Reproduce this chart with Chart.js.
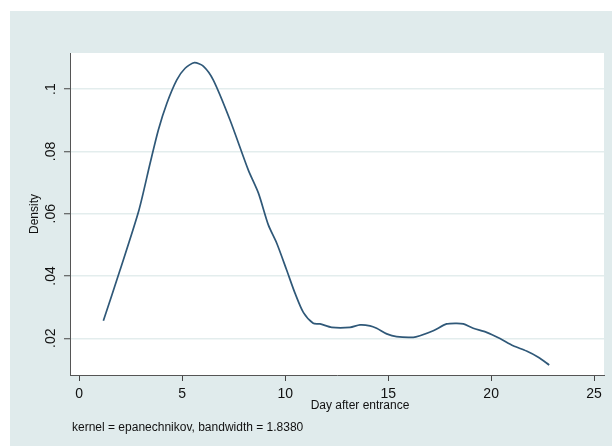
<!DOCTYPE html>
<html>
<head>
<meta charset="utf-8">
<script src="https://cdn.jsdelivr.net/npm/chart.js@4.4.1/dist/chart.umd.min.js"></script>
<style>
html,body{margin:0;padding:0;background:#ffffff;}
#wrap{position:relative;width:612px;height:446px;}
</style>
</head>
<body>
<div id="wrap"><canvas id="c" width="612" height="446"></canvas></div>
<script>
// Day after entrance (x) and estimated kernel density (y)
const dayValues = [1.17,1.98,2.90,3.44,3.84,4.25,4.73,5.14,5.59,6.02,6.51,7.32,8.21,8.70,9.18,9.59,10.07,10.48,10.88,11.36,11.69,12.26,13.15,13.63,14.12,14.44,14.93,15.41,16.22,16.54,17.19,17.84,18.33,18.65,19.13,19.78,20.43,21.07,21.72,22.29,22.82];
const densityValues = [0.0256,0.0419,0.0612,0.0762,0.0869,0.0954,0.1029,0.1067,0.1085,0.1074,0.1029,0.0901,0.0740,0.0666,0.0564,0.0505,0.0419,0.0344,0.0283,0.0248,0.0246,0.0235,0.0235,0.0243,0.0240,0.0232,0.0214,0.0205,0.0203,0.0208,0.0224,0.0246,0.0248,0.0246,0.0232,0.0219,0.0199,0.0176,0.0159,0.0139,0.0114];
const xTicks = [0,5,10,15,20,25];
const yTicks = [0.02,0.04,0.06,0.08,0.1];
const yTickLabels = ['.02','.04','.06','.08','.1'];
const xTitle = 'Day after entrance';
const yTitle = 'Density';
const noteText = 'kernel = epanechnikov, bandwidth = 1.8380';

const points = dayValues.map((d,i)=>({x:d,y:densityValues[i]}));
const FONT = 'Liberation Sans, Arial, sans-serif';

const bgPlugin = {
  id:'bg',
  beforeDraw(chart){
    const ctx = chart.ctx, a = chart.chartArea;
    ctx.save();
    ctx.fillStyle = '#e0ebec';
    ctx.fillRect(10,11,602,435);
    ctx.fillStyle = '#ffffff';
    ctx.fillRect(a.left,a.top,a.right-a.left,a.bottom-a.top);
    ctx.restore();
  },
  afterDraw(chart){
    const ctx = chart.ctx;
    ctx.save();
    ctx.fillStyle = '#111';
    ctx.font = '12px ' + FONT;
    ctx.textBaseline = 'middle';
    ctx.textAlign = 'center';
    ctx.fillText(xTitle, 360, 406);
    ctx.textAlign = 'left';
    ctx.fillText(noteText, 72, 428);
    ctx.restore();
  }
};

new Chart(document.getElementById('c'), {
  type:'line',
  data:{datasets:[{
    data:points,
    borderColor:'#2f5878',
    borderWidth:1.7,
    pointRadius:0,
    tension:0.25,
    fill:false
  }]},
  options:{
    responsive:false,
    animation:false,
    layout:{padding:{left:0,top:53,right:8,bottom:0}},
    plugins:{legend:{display:false},tooltip:{enabled:false}},
    scales:{
      x:{
        type:'linear',
        min:-0.45, max:25.48,
        afterBuildTicks(s){ s.ticks = xTicks.map(v=>({value:v})); },
        afterFit(s){ s.height = 71; },
        grid:{drawOnChartArea:false, drawTicks:true, tickLength:6, tickColor:'#444', tickWidth:1},
        border:{display:true,color:'#555',width:1},
        ticks:{color:'#111', font:{family:FONT,size:14}, padding:5, maxRotation:0,
          callback:(v)=>String(v)}
      },
      y:{
        type:'linear',
        min:0.0082, max:0.1116,
        afterBuildTicks(s){ s.ticks = yTicks.map(v=>({value:v})); },
        afterFit(s){ s.width = 70; },
        grid:{drawOnChartArea:true, color:'#e3eded', lineWidth:1.5, drawTicks:true, tickLength:6, tickColor:'#444', tickWidth:1},
        border:{display:true,color:'#555',width:1},
        ticks:{color:'#111', font:{family:FONT,size:14}, padding:3, minRotation:90, maxRotation:90, crossAlign:'center',
          callback:(v)=>{ const i = yTicks.findIndex(t=>Math.abs(t-v)<1e-9); return i>=0?yTickLabels[i]:''; }},
        title:{display:true, text:yTitle, color:'#111', font:{family:FONT,size:12}, padding:{top:27,bottom:0}}
      }
    }
  },
  plugins:[bgPlugin]
});
</script>
</body>
</html>
